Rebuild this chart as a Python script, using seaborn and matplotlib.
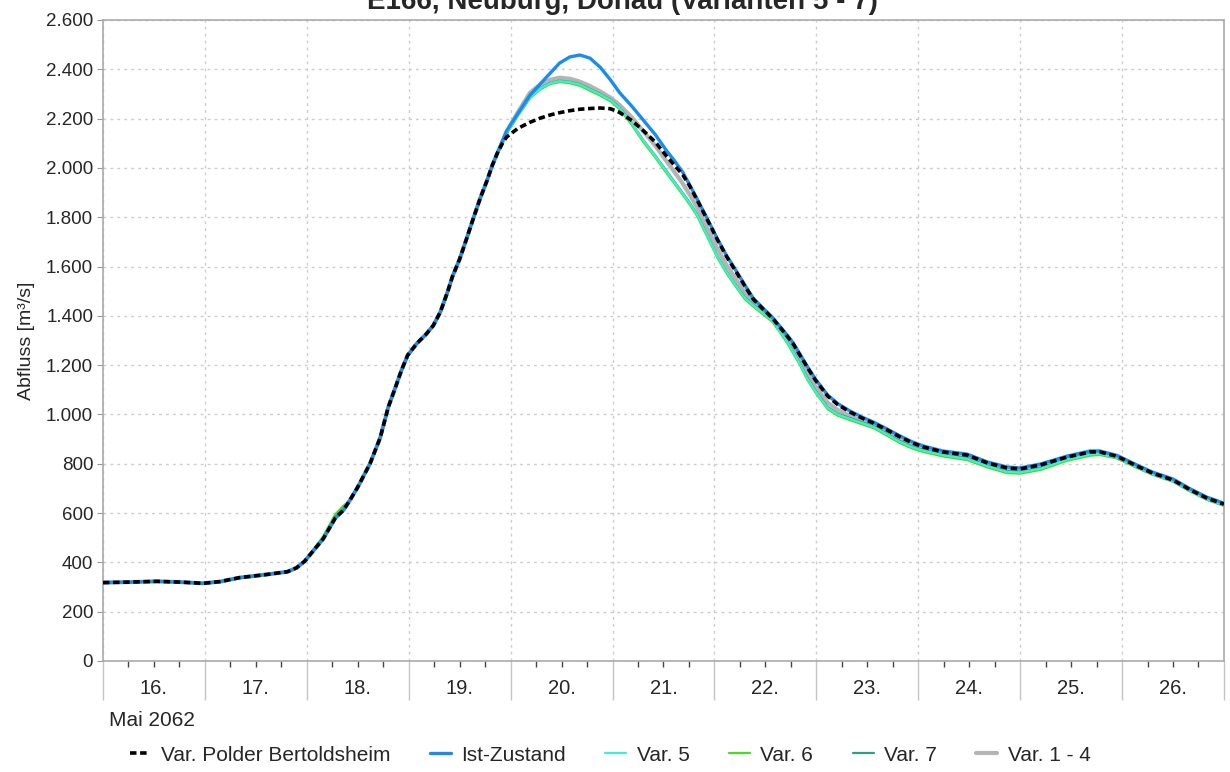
import matplotlib
matplotlib.use("Agg")
import matplotlib.pyplot as plt
import matplotlib.transforms as mtransforms
from matplotlib.ticker import FuncFormatter, MultipleLocator
import pandas as pd
import seaborn as sns

# Time in days since 16. Mai 2062 00:00
t = [0.00, 0.26, 0.53, 0.76, 0.98, 1.15, 1.34, 1.59, 1.81, 1.90, 1.98, 2.07, 2.16, 2.28,
     2.36, 2.42, 2.50, 2.62, 2.72, 2.80, 2.87, 2.93, 2.99, 3.08, 3.17, 3.24, 3.31, 3.38,
     3.43, 3.50, 3.57, 3.63, 3.70, 3.77, 3.82, 3.87,
     3.92, 3.96, 4.07, 4.19, 4.29, 4.39, 4.48, 4.58, 4.68, 4.78, 4.88, 4.98, 5.07, 5.19,
     5.30, 5.42, 5.53, 5.61, 5.69, 5.76, 5.83, 5.93, 6.03, 6.12, 6.22, 6.30, 6.38, 6.48,
     6.57, 6.64, 6.71, 6.77, 6.84, 6.91, 6.99, 7.11, 7.21, 7.33, 7.45, 7.56, 7.69, 7.82,
     7.94, 8.05, 8.24, 8.48, 8.68, 8.87, 9.00, 9.20, 9.46, 9.69, 9.78, 9.95, 10.15, 10.30,
     10.50, 10.67, 10.83, 11.00]

# rising limb shared by all runs (m3/s)
rise = [318, 320, 323, 320, 315, 322, 338, 350, 362, 378, 405, 450, 495, 580,
        612, 650, 705, 800, 905, 1030, 1110, 1180, 1240, 1288, 1325, 1360, 1415, 1495,
        1560, 1630, 1715, 1790, 1875, 1950, 2010, 2060]

polder = rise + [2100, 2125, 2160, 2185, 2202, 2215, 2224, 2232, 2238, 2241, 2243, 2240, 2225, 2192,
                 2152, 2105, 2048, 2010, 1972, 1925, 1870, 1790, 1708, 1640, 1574, 1520, 1468, 1426,
                 1390, 1355, 1320, 1288, 1240, 1192, 1140, 1075, 1040, 1010, 985, 965, 938, 909,
                 885, 868, 848, 835, 803, 783, 779, 795, 827, 848, 848, 830, 790, 762,
                 734, 694, 661, 636]

ist = rise + [2110, 2150, 2220, 2295, 2340, 2385, 2425, 2450, 2458, 2445, 2408, 2357, 2305, 2250,
              2195, 2135, 2070, 2028, 1982, 1929, 1874, 1794, 1712, 1644, 1578, 1524, 1472, 1430,
              1394, 1359, 1324, 1292, 1244, 1196, 1144, 1079, 1044, 1014, 989, 969, 942, 913,
              889, 872, 852, 839, 807, 787, 783, 799, 831, 852, 852, 834, 794, 766,
              738, 698, 665, 640]

var5 = rise + [2105, 2140, 2212, 2285, 2322, 2343, 2352, 2348, 2338, 2318, 2298, 2275, 2243, 2180,
               2112, 2047, 1985, 1940, 1895, 1855, 1810, 1725, 1640, 1577, 1517, 1472, 1443, 1410,
               1380, 1340, 1297, 1255, 1205, 1147, 1095, 1027, 1000, 982, 965, 950, 920, 889,
               867, 853, 835, 820, 790, 767, 765, 780, 817, 838, 840, 825, 786, 758,
               730, 690, 657, 632]

var6 = rise[:11] + [455, 505, 595, 630] + rise[15:] + [
               2103, 2138, 2210, 2282, 2318, 2340, 2348, 2344, 2333, 2313, 2293, 2270, 2238, 2174,
               2106, 2042, 1979, 1935, 1890, 1850, 1805, 1720, 1635, 1572, 1512, 1467, 1438, 1405,
               1375, 1335, 1292, 1250, 1200, 1142, 1090, 1022, 995, 977, 960, 945, 915, 884,
               862, 848, 830, 815, 785, 762, 760, 775, 812, 833, 836, 822, 783, 756,
               728, 688, 655, 630]

var7 = rise + [2105, 2141, 2213, 2287, 2324, 2345, 2354, 2350, 2340, 2320, 2300, 2277, 2245, 2182,
               2114, 2050, 1988, 1943, 1898, 1858, 1813, 1728, 1643, 1580, 1520, 1475, 1446, 1413,
               1383, 1343, 1300, 1258, 1208, 1150, 1098, 1030, 1003, 985, 968, 953, 923, 892,
               870, 856, 838, 823, 793, 770, 768, 783, 820, 840, 842, 827, 788, 760,
               732, 692, 659, 634]

var14 = rise + [2105, 2145, 2225, 2305, 2338, 2358, 2366, 2362, 2350, 2332, 2310, 2285, 2255, 2205,
                2150, 2090, 2027, 1982, 1936, 1890, 1840, 1755, 1672, 1605, 1543, 1495, 1455, 1416,
                1383, 1345, 1305, 1270, 1222, 1168, 1115, 1048, 1018, 994, 972, 955, 926, 896,
                873, 858, 839, 826, 794, 772, 770, 786, 820, 841, 842, 826, 787, 759,
                731, 691, 658, 633]

day_labels = ["16.", "17.", "18.", "19.", "20.", "21.", "22.", "23.", "24.", "25.", "26."]

df = pd.DataFrame({"t": t, "polder": polder, "ist": ist, "var5": var5,
                   "var6": var6, "var7": var7, "var14": var14})

sns.set_style("white")
plt.rcParams["font.family"] = ["Liberation Sans", "DejaVu Sans"]

fig = plt.figure(figsize=(12.3, 7.72), dpi=100)
ax = fig.add_axes([0.0837, 0.1438, 0.9951 - 0.0837, 0.9741 - 0.1438])

# drawn back to front, legend order set below
kw = dict(ax=ax, solid_joinstyle="round", solid_capstyle="round")
sns.lineplot(data=df, x="t", y="var14", color="#b4b4b4", lw=3.0, label="Var. 1 - 4", zorder=2, **kw)
sns.lineplot(data=df, x="t", y="var6", color="#44dd22", lw=1.6, label="Var. 6", zorder=3, **kw)
sns.lineplot(data=df, x="t", y="var7", color="#2e9e86", lw=1.6, label="Var. 7", zorder=3, **kw)
sns.lineplot(data=df, x="t", y="var5", color="#3ef0d0", lw=1.6, label="Var. 5", zorder=4, **kw)
sns.lineplot(data=df, x="t", y="ist", color="#1a8cf0", lw=2.4, label="Ist-Zustand", zorder=5, **kw)
sns.lineplot(data=df, x="t", y="polder", ax=ax, color="black", lw=2.6,
             label="Var. Polder Bertoldsheim", zorder=6)
ax.lines[-1].set_dashes([1.8, 1.0])

ax.set_xlim(0, 11)
ax.set_ylim(0, 2600)
ax.yaxis.set_major_locator(MultipleLocator(200))
ax.yaxis.set_major_formatter(FuncFormatter(lambda v, p: f"{int(v):,}".replace(",", ".")))
ax.tick_params(axis="y", labelsize=13.5, length=4, color="#999999", pad=3, left=True)

ax.set_xticks(range(12))
ax.set_xticklabels([])
ax.set_xticks([d + q for d in range(11) for q in (0.25, 0.5, 0.75)], minor=True)
ax.tick_params(axis="x", which="major", length=28, color="#c4c4c4", width=1, bottom=True)
ax.tick_params(axis="x", which="minor", length=4.5, color="#444444", width=1, bottom=True)

trans = mtransforms.blended_transform_factory(ax.transData, ax.transAxes)
for i, lab in enumerate(day_labels):
    ax.text(i + 0.5, -0.043, lab, transform=trans, ha="center", va="center", fontsize=14.5)
ax.text(0.06, -0.093, "Mai 2062", transform=trans, ha="left", va="center", fontsize=15)

ax.grid(True, color="#cccccc", linestyle=(0, (2, 3)), linewidth=1)
for s in ax.spines.values():
    s.set_color("#aaaaaa")
    s.set_linewidth(1.2)

ax.set_xlabel("")
ax.set_ylabel("Abfluss [m³/s]", fontsize=14, labelpad=8)

fig.text(0.506, 0.988, "E166, Neuburg, Donau (Varianten 5 - 7)", ha="center", va="baseline",
         fontsize=20, fontweight="bold")

h, l = ax.get_legend_handles_labels()
order = ["Var. Polder Bertoldsheim", "Ist-Zustand", "Var. 5", "Var. 6", "Var. 7", "Var. 1 - 4"]
hm = dict(zip(l, h))
ax.legend([hm[k] for k in order], order, loc="center", bbox_to_anchor=(0.496, 0.022),
          bbox_transform=fig.transFigure, ncol=6, frameon=False, fontsize=15,
          handlelength=1.0, handletextpad=0.5, columnspacing=1.9)

fig.savefig("out.png", dpi=100)
